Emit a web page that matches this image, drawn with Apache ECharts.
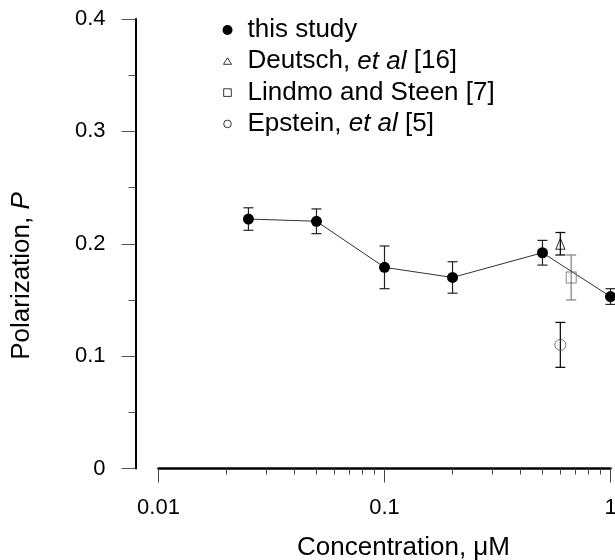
<!DOCTYPE html>
<html><head><meta charset="utf-8">
<script src="https://cdn.jsdelivr.net/npm/echarts@6/dist/echarts.min.js"></script>
<style>html,body{margin:0;padding:0;background:#fff}#c{width:615px;height:560px}</style>
</head><body><div id="c"></div>
<script>
// ---- data ----
const concentration = [0.025, 0.05, 0.1, 0.2, 0.5, 1.0];
const polarization = [0.222, 0.220, 0.179, 0.170, 0.192, 0.153];
const polarizationErr = [0.010, 0.011, 0.019, 0.014, 0.011, 0.007];
const deutschX = [0.6];
const deutschP = [0.200];
const deutschErr = [0.010];
const lindmoX = [0.67];
const lindmoP = [0.170];
const lindmoErr = [0.020];
const epsteinX = [0.6];
const epsteinP = [0.110];
const epsteinErr = [0.020];
const xMajorTicks = [0.01, 0.1, 1];
const xMinorTicks = [0.02,0.03,0.04,0.05,0.06,0.07,0.08,0.09,0.2,0.3,0.4,0.5,0.6,0.7,0.8,0.9];
const yTicks = [0, 0.1, 0.2, 0.3, 0.4];
const seriesNames = ['this study', 'Deutsch, et al [16]', 'Lindmo and Steen [7]', 'Epstein, et al [5]'];

const FONT = "'Liberation Sans', Arial, Helvetica, sans-serif";
const pairs = (xs, ys) => xs.map((v, i) => [v, ys[i]]);
const errs = (xs, ys, es) => xs.map((v, i) => [v, ys[i] - es[i], ys[i] + es[i]]);

function errorBar(color, width) {
  return function (params, api) {
    const x = api.value(0), lo = api.value(1), hi = api.value(2);
    const a = api.coord([x, hi]), b = api.coord([x, lo]);
    const w = 5;
    const st = { stroke: color, lineWidth: width };
    return { type: 'group', children: [
      { type: 'line', shape: { x1: a[0], y1: a[1], x2: b[0], y2: b[1] }, style: st },
      { type: 'line', shape: { x1: a[0] - w, y1: a[1], x2: a[0] + w, y2: a[1] }, style: st },
      { type: 'line', shape: { x1: b[0] - w, y1: b[1], x2: b[0] + w, y2: b[1] }, style: st }
    ]};
  };
}

const chart = echarts.init(document.getElementById('c'), null, { renderer: 'canvas' });
const hollow = { color: 'rgba(0,0,0,0)', borderColor: '#000', borderWidth: 1 };
const LF = 26;
const richLegend = {
  n: { fontFamily: FONT, fontSize: LF, color: '#000', lineHeight: LF },
  i: { fontFamily: FONT, fontSize: LF, color: '#000', fontStyle: 'italic', lineHeight: LF }
};
const xMin = xMajorTicks[0], xMax = xMajorTicks[xMajorTicks.length - 1];
chart.setOption({
  animation: false,
  backgroundColor: '#fff',
  textStyle: { fontFamily: FONT },
  grid: { left: 158.5, right: 4.5, top: 19, bottom: 91.5, containLabel: false, outerBoundsMode: 'none' },
  legend: {
    orient: 'vertical', left: 217, top: 12, itemGap: 5.3,
    itemWidth: 20, itemHeight: 12,
    selectedMode: false,
    data: [
      { name: seriesNames[0], icon: 'path://M0,0M20,12M10,6A5,5 0 1 1 0,6A5,5 0 1 1 10,6Z', itemStyle: { color: '#000', borderWidth: 0 } },
      { name: seriesNames[1], icon: 'path://M0,0M20,12M5,2.5L9,9L1,9Z', itemStyle: { color: 'rgba(0,0,0,0)', borderColor: '#000', borderWidth: 1 } },
      { name: seriesNames[2], icon: 'path://M0,0M20,12M1.2,2.2H8.8V9.8H1.2Z', itemStyle: { color: 'rgba(0,0,0,0)', borderColor: '#000', borderWidth: 1 } },
      { name: seriesNames[3], icon: 'path://M0,0M20,12M8.8,6A3.8,3.8 0 1 1 1.2,6A3.8,3.8 0 1 1 8.8,6Z', itemStyle: { color: 'rgba(0,0,0,0)', borderColor: '#000', borderWidth: 1 } }
    ],
    formatter: function (name) {
      if (name === seriesNames[1]) return '{n|Deutsch, }{i|et al}{n| [16]}';
      if (name === seriesNames[3]) return '{n|Epstein, }{i|et al}{n| [5]}';
      return '{n|' + name + '}';
    },
    textStyle: { rich: richLegend, fontSize: LF }
  },
  xAxis: [{
    type: 'log', min: xMin, max: xMax, logBase: 10,
    position: 'bottom',
    name: 'Concentration, \u03bcM', nameLocation: 'middle', nameGap: 66,
    nameTextStyle: { fontFamily: FONT, fontSize: 26, color: '#000', padding: [0, 0, 0, 38] },
    axisLine: { show: true, onZero: false, lineStyle: { color: '#000', width: 2.5 } },
    axisTick: { show: true, length: 14, lineStyle: { color: '#444', width: 1 } },
    axisLabel: { show: true, margin: 28, fontFamily: FONT, fontSize: 22, color: '#000',
      formatter: v => String(v) },
    splitLine: { show: false }, minorTick: { show: false }
  }, {
    // hidden helper axis in log10 units, used only to place the 2..9 minor ticks
    type: 'value', min: Math.log10(xMin), max: Math.log10(xMax),
    position: 'bottom', offset: 0,
    axisLine: { show: false, onZero: false },
    axisTick: { show: true, length: 6, customValues: xMinorTicks.map(Math.log10), lineStyle: { color: '#444', width: 1 } },
    axisLabel: { show: false }, splitLine: { show: false }
  }],
  yAxis: {
    type: 'value', min: yTicks[0], max: yTicks[yTicks.length - 1], interval: 0.1,
    offset: 23, position: 'left',
    axisLine: { show: true, onZero: false, lineStyle: { color: '#000', width: 2 } },
    axisTick: { show: true, length: 14, lineStyle: { color: '#555', width: 1 } },
    minorTick: { show: true, splitNumber: 2, length: 7, lineStyle: { color: '#555', width: 1 } },
    axisLabel: { margin: 30, fontFamily: FONT, fontSize: 22, color: '#000' },
    splitLine: { show: false }
  },
  graphic: [{
    type: 'text', x: 22, y: 276, rotation: Math.PI / 2,
    style: {
      text: '{a|Polarization, }{b|P}',
      align: 'center', verticalAlign: 'middle',
      rich: {
        a: { fontFamily: FONT, fontSize: 26, fill: '#000', color: '#000' },
        b: { fontFamily: FONT, fontSize: 26, fill: '#000', color: '#000', fontStyle: 'italic' }
      }
    }
  }],
  series: [
    { name: 'e0', type: 'custom', renderItem: errorBar('#222', 1.2), data: errs(concentration, polarization, polarizationErr), encode: { x: 0, y: [1, 2] }, clip: false, silent: true, z: 1 },
    { name: 'e1', type: 'custom', renderItem: errorBar('#111', 1.3), data: errs(deutschX, deutschP, deutschErr), encode: { x: 0, y: [1, 2] }, clip: false, silent: true, z: 1 },
    { name: 'e2', type: 'custom', renderItem: errorBar('#888', 1.3), data: errs(lindmoX, lindmoP, lindmoErr), encode: { x: 0, y: [1, 2] }, clip: false, silent: true, z: 1 },
    { name: 'e3', type: 'custom', renderItem: errorBar('#111', 1.3), data: errs(epsteinX, epsteinP, epsteinErr), encode: { x: 0, y: [1, 2] }, clip: false, silent: true, z: 1 },
    { name: seriesNames[0], type: 'line', data: pairs(concentration, polarization), symbol: 'circle', symbolSize: 11,
      showAllSymbol: true, clip: false,
      lineStyle: { color: '#333', width: 1 }, itemStyle: { color: '#000' }, z: 3 },
    { name: seriesNames[1], type: 'scatter', data: pairs(deutschX, deutschP), symbol: 'triangle', symbolSize: [9, 11], itemStyle: hollow, clip: false, z: 3 },
    { name: seriesNames[2], type: 'scatter', data: pairs(lindmoX, lindmoP), symbol: 'rect', symbolSize: [10, 11], itemStyle: Object.assign({}, hollow, { borderColor: '#666' }), clip: false, z: 3 },
    { name: seriesNames[3], type: 'scatter', data: pairs(epsteinX, epsteinP), symbol: 'circle', symbolSize: 11, itemStyle: Object.assign({}, hollow, { borderColor: '#555' }), clip: false, z: 3 }
  ]
});
</script></body></html>
